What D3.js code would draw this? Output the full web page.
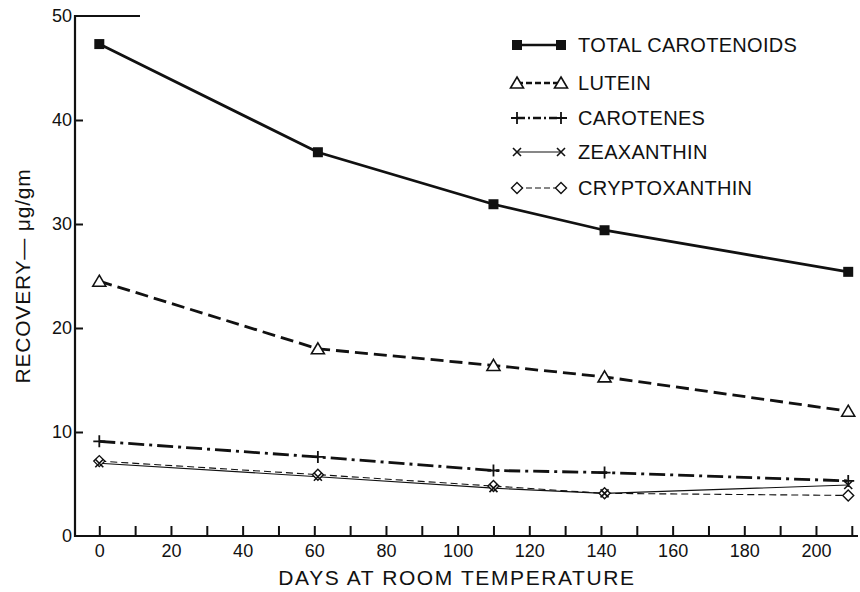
<!DOCTYPE html>
<html><head><meta charset="utf-8">
<script src="https://cdn.jsdelivr.net/npm/d3@7/dist/d3.min.js"></script>
<style>
html,body{margin:0;padding:0;background:#fff;}
svg{display:block;}
text{font-family:"Liberation Sans Narrow","Liberation Sans",Arial,sans-serif;fill:#111;}
</style></head>
<body>
<svg id="chart" width="860" height="592"></svg>
<script>
const days = [0, 61, 110, 141, 209];
const totalCarotenoids = [47.3, 36.9, 31.9, 29.4, 25.4];
const lutein = [24.5, 18.0, 16.4, 15.3, 12.0];
const carotenes = [9.1, 7.6, 6.3, 6.1, 5.3];
const zeaxanthin = [7.0, 5.7, 4.6, 4.1, 4.9];
const cryptoxanthin = [7.2, 5.9, 4.8, 4.1, 3.9];
const seriesNames = ["TOTAL CAROTENOIDS", "LUTEIN", "CAROTENES", "ZEAXANTHIN", "CRYPTOXANTHIN"];
const xTicks = d3.range(0, 211, 10);
const xLabelTicks = [0, 20, 40, 60, 80, 100, 120, 140, 160, 180, 200];
const yTicks = [0, 10, 20, 30, 40, 50];
const xTitle = "DAYS AT ROOM TEMPERATURE";
const yTitle = "RECOVERY\u2014 \u03bcg/gm";

const svg = d3.select("#chart");
const x = d3.scaleLinear().domain([0, 210]).range([99.3, 851.8]);
const y = d3.scaleLinear().domain([0, 50]).range([536, 16]);
const ink = "#111";

// axes
const gx = svg.append("g").attr("transform", "translate(0,536)")
  .call(d3.axisBottom(x).tickValues(xTicks).tickSizeInner(-10).tickSizeOuter(0).tickPadding(8)
    .tickFormat(d => xLabelTicks.includes(d) ? d : ""));
gx.select(".domain").remove();
gx.selectAll(".tick line").attr("stroke", ink).attr("stroke-width", 2);
gx.selectAll(".tick text").attr("font-size", 18).attr("fill", ink).attr("dy", "0.72em");
svg.append("line").attr("x1", 74).attr("x2", 858).attr("y1", 536).attr("y2", 536)
  .attr("stroke", ink).attr("stroke-width", 2.2);

const gy = svg.append("g").attr("transform", "translate(75,0)")
  .call(d3.axisLeft(y).tickValues(yTicks).tickSizeInner(-8).tickSizeOuter(0).tickPadding(3));
gy.select(".domain").remove();
gy.selectAll(".tick line").attr("stroke", ink).attr("stroke-width", 2)
  .filter(d => d === 0 || d === 50).remove();
gy.selectAll(".tick text").attr("font-size", 18).attr("fill", ink);
svg.append("line").attr("x1", 75).attr("x2", 75).attr("y1", 537).attr("y2", 15)
  .attr("stroke", ink).attr("stroke-width", 2.2);
svg.append("line").attr("x1", 74).attr("x2", 140).attr("y1", y(50)).attr("y2", y(50))
  .attr("stroke", ink).attr("stroke-width", 2);

// titles
svg.append("text").attr("x", 457).attr("y", 585).attr("text-anchor", "middle")
  .attr("font-size", 21).attr("letter-spacing", 1.6).text(xTitle);
svg.append("text").attr("transform", "translate(30,276) rotate(-90)").attr("text-anchor", "middle")
  .attr("font-size", 21).attr("letter-spacing", 0.8).text(yTitle);

// series styles
const styles = [
  {vals: totalCarotenoids, width: 2.8, dash: null, marker: "square"},
  {vals: lutein, width: 2.8, dash: "13,6", marker: "triangle"},
  {vals: carotenes, width: 2.8, dash: "16,5,3,5", marker: "plus"},
  {vals: zeaxanthin, width: 1.1, dash: null, marker: "cross"},
  {vals: cryptoxanthin, width: 1.1, dash: "7,4", marker: "diamond"}
];

function drawMarker(g, type, cx, cy) {
  if (type === "square") {
    g.append("rect").attr("x", cx - 5).attr("y", cy - 5).attr("width", 10).attr("height", 10).attr("fill", ink);
  } else if (type === "triangle") {
    g.append("path").attr("d", `M${cx},${cy-6}L${cx+6.5},${cy+5}L${cx-6.5},${cy+5}Z`)
      .attr("fill", "#fff").attr("stroke", ink).attr("stroke-width", 1.6);
  } else if (type === "plus") {
    g.append("path").attr("d", `M${cx-6},${cy}H${cx+6}M${cx},${cy-6}V${cy+6}`)
      .attr("stroke", ink).attr("stroke-width", 1.8).attr("fill", "none");
  } else if (type === "cross") {
    g.append("path").attr("d", `M${cx-4},${cy-4}L${cx+4},${cy+4}M${cx+4},${cy-4}L${cx-4},${cy+4}`)
      .attr("stroke", ink).attr("stroke-width", 1.6).attr("fill", "none");
  } else if (type === "diamond") {
    g.append("path").attr("d", `M${cx},${cy-5.5}L${cx+5.5},${cy}L${cx},${cy+5.5}L${cx-5.5},${cy}Z`)
      .attr("fill", "#fff").attr("stroke", ink).attr("stroke-width", 1.4);
  }
}

const line = d3.line().x(d => x(d[0])).y(d => y(d[1]));
styles.forEach(s => {
  const pts = days.map((d, i) => [d, s.vals[i]]);
  svg.append("path").datum(pts).attr("d", line).attr("fill", "none")
    .attr("stroke", ink).attr("stroke-width", s.width)
    .attr("stroke-dasharray", s.dash);
});
styles.slice().reverse().forEach(s => {
  const g = svg.append("g");
  days.forEach((d, i) => drawMarker(g, s.marker, x(d), y(s.vals[i])));
});

// legend
const legY = [45, 83, 118, 152, 188];
styles.forEach((s, i) => {
  const g = svg.append("g");
  g.append("line").attr("x1", 517).attr("x2", 561).attr("y1", legY[i]).attr("y2", legY[i])
    .attr("stroke", ink).attr("stroke-width", s.width === 2.8 ? 2.4 : 1.1)
    .attr("stroke-dasharray", s.dash === "16,5,3,5" ? "8,3,2,3" : (s.dash ? "6,3" : null));
  drawMarker(g, s.marker, 517, legY[i]);
  drawMarker(g, s.marker, 561, legY[i]);
  g.append("text").attr("x", 578).attr("y", legY[i]).attr("dy", "0.36em")
    .attr("font-size", 20).attr("letter-spacing", 0.3).text(seriesNames[i]);
});
</script>
</body></html>
